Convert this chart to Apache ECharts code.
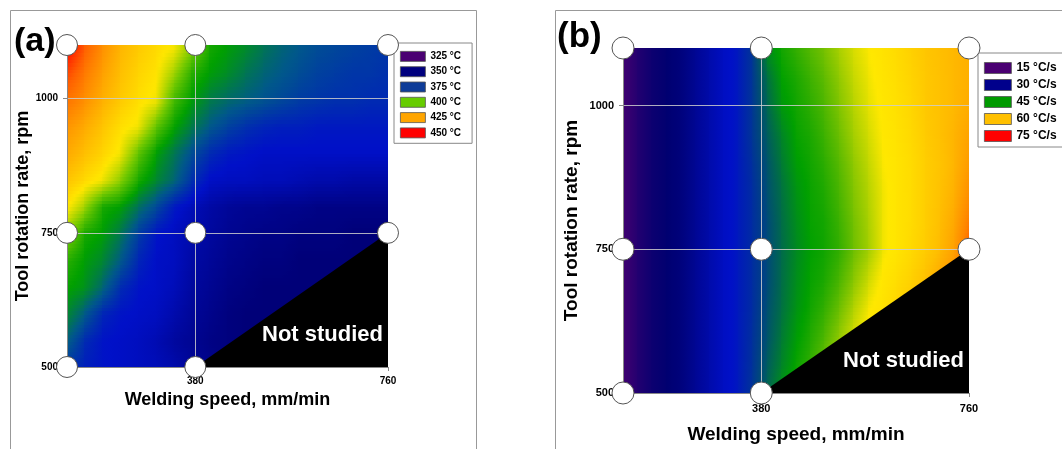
<!DOCTYPE html>
<html><head><meta charset="utf-8">
<script src="https://cdn.jsdelivr.net/npm/echarts@6/dist/echarts.min.js"></script>
<style>html,body{margin:0;padding:0;background:#fff}#c{width:1062px;height:449px}</style>
</head><body><div id="c"></div>
<script>
// ---------- data ----------
const speedRange = [127, 760];
const rateRange = [500, 1100];
const speedTicks = [380, 760];
const rateTicks = [500, 750, 1000];
const gridLinesX = [380];
const gridLinesY = [750, 1000];
const studiedPoints = [[127,500],[380,500],[127,750],[380,750],[760,750],[127,1100],[380,1100],[760,1100]];
const notStudied = [[380,500],[760,500],[760,750]];
const gridRate = [500,550,600,650,700,750,800,850,900,950,1000,1050,1100];

// (a) peak temperature, deg C, read on a grid (rows from 500 to 1100 rpm)
const gridSpeedA = [127,162.2,197.3,232.5,267.7,302.8,338,373.2,408.3,443.5,478.7,513.8,549,584.2,619.3,654.5,689.7,724.8,760];
const peakTempA = [
  [369,365,363,362,361,360,358,355,353,351,350,350,350,350,350,350,350,350,350],
  [376,367,363,362,361,359,356,354,352,351,350,350,349,348,348,348,348,348,348],
  [383,375,366,363,362,361,358,355,353,351,350,350,350,349,348,348,348,348,348],
  [388,385,377,367,363,362,360,356,354,352,351,350,350,350,350,349,349,349,349],
  [392,387,383,375,366,362,361,357,355,353,352,351,351,350,350,350,350,350,350],
  [402,390,387,380,370,363,361,358,356,354,353,352,352,351,351,351,350,350,350],
  [413,404,390,387,379,372,364,360,357,355,354,354,353,353,352,352,352,352,352],
  [419,415,411,402,390,383,377,368,362,361,361,360,360,359,358,358,357,357,357],
  [424,420,416,411,398,387,380,373,367,364,363,362,362,362,362,362,362,362,362],
  [428,424,419,414,411,398,388,381,375,371,368,366,365,365,364,364,364,364,364],
  [434,429,423,418,414,411,395,387,381,378,376,374,372,370,369,368,368,367,367],
  [441,433,426,420,416,413,404,392,387,384,380,377,375,373,371,370,369,369,368],
  [450,438,429,422,418,415,412,402,390,387,384,380,377,375,373,372,371,370,369]
];

// (b) cooling rate, deg C/s, read on a grid (rows from 500 to 1100 rpm)
const gridSpeedB = [127,153.4,179.8,206.1,232.5,258.9,285.3,311.6,338,364.4,390.8,417.1,443.5,469.9,496.3,522.6,549,575.4,601.8,628.1,654.5,680.9,707.3,733.6,760];
const coolingRateB = [
  [16,22,27,30,31,33,35,37,38,39.5,42,44.5,45.8,47,49,51,53,55,57.5,60,62,63,64,65,66],
  [16,22,27,30,31,33,35,37,38,39.3,41.5,43.5,45.3,46.5,48.2,50.2,52.2,54,56.5,59,61.5,63,64,65,66],
  [16,22,27,30,31,33,35,37,38,39.2,41,43,44.8,46,47.3,49.3,51.3,53,55,58,61,63,65,66,67],
  [16,22,27,30,31,33,35,37,38,39,40.8,42.5,44.3,45.5,46.5,48.2,50.2,52.2,53.5,56,59,62,64,66,68],
  [16,22,27,30,31,33,35,37,38,39,40.5,42.3,44,45.2,45.8,47.2,49,51,52.8,54.5,57,60,63,66,70],
  [16,22,27,30,31,33,35,37,38,39,40.5,42.2,43.8,45,45.5,46.5,48.2,49.8,52,53.2,55.5,58,61,64,70],
  [16,22,27,30,31,33,35,37,38,39,40.5,42.3,44,45.2,45.6,46.8,48.4,50,52,53.2,55,57.5,60.5,63,68],
  [16,22,27,30,31,33,35,37,38,39,40.8,42.5,44.3,45.3,45.9,47.2,48.8,50.3,52,53.2,55,57.5,60,62,66],
  [16,22,27,30,31,33,35,37,38,39.2,41,43,44.8,45.5,46.3,47.6,49.2,50.7,52.3,53.3,55,57.5,59.5,61.5,64.5],
  [16,22,27,30,31,33,35,37,38,39.5,41.5,43.5,45.2,45.8,46.8,48.2,49.8,51.2,52.6,53.6,55.5,58,60,61.5,63.5],
  [16,22,27,30,31,33,35,37,38,39.5,42,44.5,45.5,46.3,47.3,48.8,50.3,51.7,52.8,54,56,58.5,60,61,62.5],
  [16,22,27,30,31,33,35,37,38,39.5,42.5,45,45.8,46.8,47.8,49.3,50.8,52,53.2,54.5,56.5,58.5,60,61,62],
  [16,22,27,30,31,33,35,37,38,39.5,44,45.5,46.5,47.5,48.5,50,51.3,52.4,53.5,55,57,59,60.2,61,62]
];

const legendTempA = ['325 °C','350 °C','375 °C','400 °C','425 °C','450 °C'];
const legendCoolB = ['15 °C/s','30 °C/s','45 °C/s','60 °C/s','75 °C/s'];

// ---------- styles ----------
const FONT = '"Liberation Sans", Arial, Helvetica, sans-serif';
const legendColorsA = ['#4a0072','#00007e','#0e3c98','#66cc00','#ffa500','#ff0000'];
const legendColorsB = ['#4a0072','#00008c','#009a00','#ffc000','#ff0000'];
const rampA = { min: 325, max: 450, colors: ['#440070','#200070','#000078','#0010c8','#00588a','#00a000','#70c800','#ffe600','#ffa500','#ff6000','#ff0000'] };
const rampB = { min: 15, max: 75, colors: ['#440070','#200070','#000070','#0010c8','#00a000','#ffe800','#ffc000','#ff8000','#ff0000'] };

function hexRgb(h) { return [parseInt(h.substr(1,2),16), parseInt(h.substr(3,2),16), parseInt(h.substr(5,2),16)]; }
function rampColor(ramp, v) {
  const n = ramp.colors.length - 1;
  const t = Math.max(0, Math.min(1, (v - ramp.min) / (ramp.max - ramp.min))) * n;
  const i = Math.min(Math.floor(t), n - 1), f = t - i;
  const a = hexRgb(ramp.colors[i]), b = hexRgb(ramp.colors[i + 1]);
  return 'rgb(' + a.map((c, k) => Math.round(c + (b[k] - c) * f)).join(',') + ')';
}

// contour-like shaded field: one item per grid cell, shaded between its four read values
function fieldSeries(xs, ys, grid, ramp, gi) {
  const data = [];
  for (let r = 0; r < ys.length - 1; r++)
    for (let c = 0; c < xs.length - 1; c++) data.push([xs[c], ys[r], grid[r][c], c, r]);
  const STRIPS = 8, STOPS = 6;
  return {
    type: 'custom', xAxisIndex: gi, yAxisIndex: gi, clip: true, silent: true, z: 1,
    data: data, encode: { x: 0, y: 1 },
    renderItem: function (params, api) {
      const c = api.value(3), r = api.value(4);
      const x0 = xs[c], x1 = xs[c + 1], y0 = ys[r], y1 = ys[r + 1];
      const v00 = grid[r][c], v10 = grid[r][c + 1], v01 = grid[r + 1][c], v11 = grid[r + 1][c + 1];
      const children = [];
      for (let k = 0; k < STRIPS; k++) {
        const t = (k + 0.5) / STRIPS;
        const ya = y0 + (y1 - y0) * k / STRIPS, yb = y0 + (y1 - y0) * (k + 1) / STRIPS;
        const vl = v00 + (v01 - v00) * t, vr = v10 + (v11 - v10) * t;
        const p0 = api.coord([x0, yb]), p1 = api.coord([x1, ya]);
        const stops = [];
        for (let s = 0; s < STOPS; s++) {
          const f = s / (STOPS - 1);
          stops.push({ offset: f, color: rampColor(ramp, vl + (vr - vl) * f) });
        }
        const xa = Math.floor(p0[0]), xb = Math.ceil(p1[0]) + 1;
        const ta = Math.floor(p0[1]), tb = Math.ceil(p1[1]) + 1;
        children.push({ type: 'rect',
          shape: { x: xa, y: ta, width: xb - xa, height: tb - ta },
          style: { fill: new echarts.graphic.LinearGradient(0, 0, 1, 0, stops) } });
      }
      return { type: 'group', children: children };
    }
  };
}
function triangleSeries(gi, fontSize) {
  return {
    type: 'custom', xAxisIndex: gi, yAxisIndex: gi, silent: true, z: 3,
    data: [notStudied[1]],
    renderItem: function (params, api) {
      const pts = notStudied.map(p => api.coord(p));
      const br = api.coord(notStudied[1]);
      return { type: 'group', children: [
        { type: 'polygon', shape: { points: pts }, style: { fill: '#000' } },
        { type: 'text', style: { text: 'Not studied', x: br[0] - 5, y: br[1] - 32, align: 'right', verticalAlign: 'middle',
          fill: '#fff', font: 'bold ' + fontSize + 'px ' + FONT } }
      ] };
    }
  };
}
function gridLineSeries(gi) {
  return {
    type: 'line', xAxisIndex: gi, yAxisIndex: gi, data: [], z: 4, silent: true,
    markLine: { silent: true, symbol: 'none', label: { show: false },
      lineStyle: { color: 'rgba(205,205,205,0.85)', width: 1, type: 'solid' },
      data: gridLinesX.map(v => ({ xAxis: v })).concat(gridLinesY.map(v => ({ yAxis: v }))) }
  };
}
function pointSeries(gi, size) {
  return { type: 'scatter', xAxisIndex: gi, yAxisIndex: gi, data: studiedPoints, symbolSize: size, z: 8, silent: true,
    itemStyle: { color: '#fff', borderColor: '#555', borderWidth: 1, opacity: 1 } };
}
function legendDummies(names, colors, gi) {
  return names.map((n, i) => ({ type: 'scatter', name: n, data: [], xAxisIndex: gi, yAxisIndex: gi,
    itemStyle: { color: colors[i], opacity: 1 } }));
}
function xAx(gi, fs, margin, nameFs, nameGap) {
  return { gridIndex: gi, type: 'value', min: speedRange[0], max: speedRange[1], z: 5,
    axisLine: { show: true, onZero: false, lineStyle: { color: '#888', width: 1 } },
    axisTick: { show: true, customValues: speedTicks, length: 4, lineStyle: { color: '#888' } },
    axisLabel: { customValues: speedTicks, margin: margin, fontSize: fs, fontWeight: 'bold', color: '#000', fontFamily: FONT,
      formatter: v => String(v) },
    splitLine: { show: false },
    name: 'Welding speed, mm/min', nameLocation: 'middle', nameGap: nameGap,
    nameTextStyle: { fontSize: nameFs, fontWeight: 'bold', color: '#000', fontFamily: FONT } };
}
function yAx(gi, fs, margin, nameFs, nameGap) {
  return { gridIndex: gi, type: 'value', min: rateRange[0], max: rateRange[1], z: 5,
    axisLine: { show: true, onZero: false, lineStyle: { color: '#888', width: 1 } },
    axisTick: { show: true, customValues: rateTicks, length: 4, lineStyle: { color: '#888' } },
    axisLabel: { customValues: rateTicks, margin: margin, fontSize: fs, fontWeight: 'bold', color: '#000', fontFamily: FONT,
      formatter: v => String(v) },
    splitLine: { show: false },
    name: 'Tool rotation rate, rpm', nameLocation: 'middle', nameGap: nameGap,
    nameTextStyle: { fontSize: nameFs, fontWeight: 'bold', color: '#000', fontFamily: FONT } };
}

const series = [
  fieldSeries(gridSpeedA, gridRate, peakTempA, rampA, 0),
  fieldSeries(gridSpeedB, gridRate, coolingRateB, rampB, 1),
  triangleSeries(0, 22), triangleSeries(1, 22),
  gridLineSeries(0), gridLineSeries(1),
  pointSeries(0, 21), pointSeries(1, 22)
].concat(legendDummies(legendTempA, legendColorsA, 0), legendDummies(legendCoolB, legendColorsB, 1));

const chart = echarts.init(document.getElementById('c'), null, { renderer: 'canvas' });
chart.setOption({
  animation: false,
  backgroundColor: '#fff',
  grid: [
    { left: 67, top: 45, width: 321, height: 322 },
    { left: 623, top: 48, width: 346, height: 345 }
  ],
  xAxis: [xAx(0, 10, 9, 18, 24), xAx(1, 11, 10, 19, 32)],
  yAxis: [yAx(0, 10, 9, 18, 28), yAx(1, 11, 9, 19, 42)],
  legend: [
    { data: legendTempA.map((n, i) => ({ name: n, itemStyle: { color: legendColorsA[i], borderColor: '#555', borderWidth: 0.8 } })),
      orient: 'vertical', left: 394, top: 43, padding: [8, 11, 5, 6], itemWidth: 25, itemHeight: 10, itemGap: 4.5,
      icon: 'rect', selectedMode: false, borderColor: '#888', borderWidth: 1, backgroundColor: '#fff', z: 6,
      textStyle: { fontSize: 10, fontWeight: 'bold', color: '#000', fontFamily: FONT } },
    { data: legendCoolB.map((n, i) => ({ name: n, itemStyle: { color: legendColorsB[i], borderColor: '#555', borderWidth: 0.8 } })),
      orient: 'vertical', left: 978, top: 53, padding: [9, 30, 5, 6], itemWidth: 27, itemHeight: 11, itemGap: 5,
      icon: 'rect', selectedMode: false, borderColor: '#888', borderWidth: 1, backgroundColor: '#fff', z: 6,
      textStyle: { fontSize: 12, fontWeight: 'bold', color: '#000', fontFamily: FONT } }
  ],
  graphic: [
    { type: 'rect', silent: true, z: -10, shape: { x: 10.5, y: 10.5, width: 466, height: 470 }, style: { fill: 'none', stroke: '#999', lineWidth: 1 } },
    { type: 'rect', silent: true, z: -10, shape: { x: 555.5, y: 10.5, width: 600, height: 470 }, style: { fill: 'none', stroke: '#999', lineWidth: 1 } },
    { type: 'text', left: 14, top: 25, z: 20, style: { text: '(a)', font: 'bold 34px ' + FONT, fill: '#000' } },
    { type: 'text', left: 557, top: 20, z: 20, style: { text: '(b)', font: 'bold 35px ' + FONT, fill: '#000' } }
  ],
  series: series
});
</script>
</body></html>
